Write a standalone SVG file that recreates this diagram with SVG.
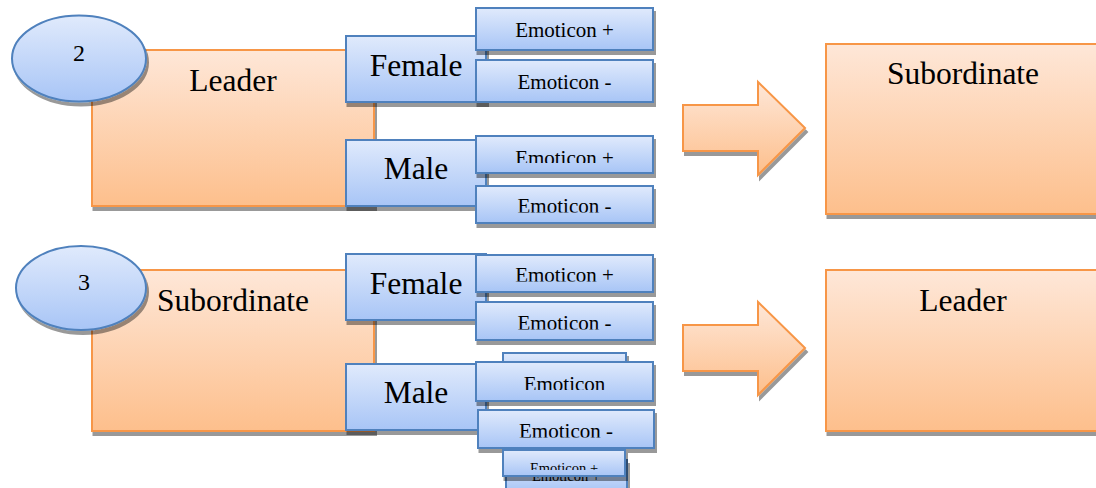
<svg xmlns="http://www.w3.org/2000/svg" width="1096" height="488" viewBox="0 0 1096 488">
<defs>
<linearGradient id="og" x1="0" y1="0" x2="0" y2="1"><stop offset="0" stop-color="#fee7d8"/><stop offset="1" stop-color="#fdbf8c"/></linearGradient>
<linearGradient id="bg" x1="0" y1="0" x2="0" y2="1"><stop offset="0" stop-color="#e0eafc"/><stop offset="1" stop-color="#a8c5f6"/></linearGradient>
<filter id="sh" x="-10%" y="-10%" width="125%" height="140%">
<feFlood flood-color="#000" flood-opacity="0.4"/><feComposite in2="SourceAlpha" operator="in"/><feOffset dx="1.5" dy="4"/>
<feMerge><feMergeNode/><feMergeNode in="SourceGraphic"/></feMerge></filter>
<clipPath id="c1"><rect x="470" y="130" width="190" height="33"/></clipPath>
<clipPath id="c2"><rect x="470" y="180" width="190" height="32.5"/></clipPath>
<clipPath id="c3"><rect x="470" y="250" width="190" height="31.5"/></clipPath>
<clipPath id="c4"><rect x="470" y="296" width="190" height="33.5"/></clipPath>
<clipPath id="c5"><rect x="470" y="356" width="190" height="34"/></clipPath>
<clipPath id="c6"><rect x="470" y="404" width="190" height="33.5"/></clipPath>
<clipPath id="c7"><rect x="500" y="446" width="130" height="24"/></clipPath>
<clipPath id="c8"><rect x="500" y="476" width="130" height="12"/></clipPath>
</defs>
<style>
.o{fill:url(#og);stroke:#f79646;stroke-width:2;filter:url(#sh)}
.b{fill:url(#bg);stroke:#4f81bd;stroke-width:2;filter:url(#sh)}
text{fill:#000;text-anchor:middle;font-family:'Liberation Serif','Tinos','Noto Serif','DejaVu Serif','Times New Roman',Times,serif}
.big{font-size:31.5px}
.em{font-size:21px}
.sm{font-size:14.5px}
.num{font-size:24px}
</style>
<g id="leader-top">
<rect class="o" x="92" y="50" width="282" height="156"/>
<text class="big" x="233" y="91">Leader</text>
</g>
<g id="num-2">
<ellipse class="b" cx="79" cy="58.5" rx="67" ry="43"/>
<text class="num" x="79" y="61">2</text>
</g>
<g id="female-top">
<rect class="b" x="346" y="36" width="140" height="66"/>
<text class="big" x="416" y="76">Female</text>
</g>
<g id="emo-plus-female-top">
<rect class="b" x="476" y="8" width="177" height="42"/>
<text class="em" x="564.5" y="37">Emoticon +</text>
</g>
<g id="emo-minus-female-top">
<rect class="b" x="476" y="60" width="177" height="42"/>
<text class="em" x="564.5" y="89">Emoticon -</text>
</g>
<g id="male-top">
<rect class="b" x="346" y="140" width="140" height="66"/>
<text class="big" x="416" y="179">Male</text>
</g>
<g id="emo-plus-male-top">
<rect class="b" x="476" y="136" width="177" height="37"/>
<text class="em" x="564.5" y="165" clip-path="url(#c1)">Emoticon +</text>
</g>
<g id="emo-minus-male-top">
<rect class="b" x="476" y="186" width="177" height="37"/>
<text class="em" x="564.5" y="213" clip-path="url(#c2)">Emoticon -</text>
</g>
<g id="subordinate-right">
<rect class="o" x="826" y="44" width="285" height="170"/>
<text class="big" x="963" y="84">Subordinate</text>
</g>

<g id="subordinate-bottom">
<rect class="o" x="92" y="270" width="282" height="161"/>
<text class="big" x="233" y="311">Subordinate</text>
</g>
<g id="num-3">
<ellipse class="b" cx="81" cy="288" rx="65" ry="42"/>
<text class="num" x="84" y="290">3</text>
</g>
<g id="female-bottom">
<rect class="b" x="346" y="254" width="140" height="66"/>
<text class="big" x="416" y="294">Female</text>
</g>
<g id="emo-plus-female-bottom">
<rect class="b" x="476" y="255" width="177" height="37"/>
<text class="em" x="564.5" y="282" clip-path="url(#c3)">Emoticon +</text>
</g>
<g id="emo-minus-female-bottom">
<rect class="b" x="476" y="302" width="177" height="38"/>
<text class="em" x="564.5" y="330" clip-path="url(#c4)">Emoticon -</text>
</g>
<g id="emo-back">
<rect class="b" x="503" y="353" width="123" height="30"/>
</g>
<g id="male-bottom">
<rect class="b" x="346" y="364" width="140" height="66"/>
<text class="big" x="416" y="403">Male</text>
</g>
<g id="emo-male-bottom">
<rect class="b" x="476" y="362" width="177" height="39"/>
<text class="em" x="564.5" y="391" clip-path="url(#c5)">Emoticon</text>
</g>
<g id="emo-minus-male-bottom">
<rect class="b" x="478" y="410" width="176" height="38"/>
<text class="em" x="566" y="438" clip-path="url(#c6)">Emoticon -</text>
</g>
<g id="emo-plus-back">
<rect class="b" x="506" y="460" width="121" height="32"/>
<text class="sm" x="566" y="481" clip-path="url(#c8)">Emoticon +</text>
</g>
<g id="emo-plus-front">
<rect class="b" x="503" y="450" width="122" height="26"/>
<text class="sm" x="564" y="473" clip-path="url(#c7)">Emoticon +</text>
</g>
<g id="leader-right">
<rect class="o" x="826" y="270" width="285" height="161"/>
<text class="big" x="963" y="311">Leader</text>
</g>
<g id="connectors">
<polygon class="o" points="683,105 758,105 758,82 805,128 758,175 758,151 683,151"/>
<polygon class="o" points="683,325 758,325 758,302 805,348 758,395 758,371 683,371"/>
</g>
</svg>
